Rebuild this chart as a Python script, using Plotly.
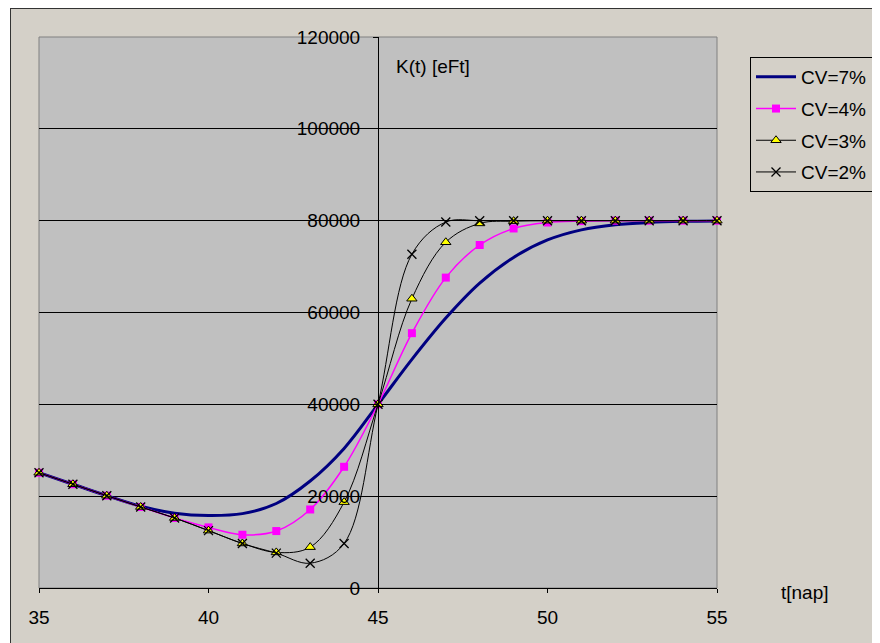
import plotly.graph_objects as go

# ---- data ----
t_days = list(range(35, 56))
cv7 = [25100, 22600, 20100, 17800, 16300, 15800, 16200, 18400, 23300, 30400, 40000,
       49800, 58800, 66400, 72000, 75800, 78000, 79100, 79600, 79850, 79950]
cv4 = [25100, 22600, 20100, 17650, 15250, 13200, 11600, 12400, 17100, 26400, 40000,
       55500, 67600, 74700, 78300, 79600, 79900, 80000, 80000, 80000, 80000]
cv3 = [25100, 22600, 20100, 17650, 15250, 12500, 9700, 7750, 8900, 18700, 40000,
       63000, 75300, 79400, 79900, 80000, 80000, 80000, 80000, 80000, 80000]
cv2 = [25100, 22600, 20100, 17650, 15250, 12500, 9700, 7600, 5400, 9700, 40000,
       72700, 79700, 80000, 80000, 80000, 80000, 80000, 80000, 80000, 80000]
series_names = ["CV=7%", "CV=4%", "CV=3%", "CV=2%"]
x_ticks = [35, 40, 45, 50, 55]
y_ticks = [0, 20000, 40000, 60000, 80000, 100000, 120000]

FONT = "Liberation Sans, Arial, sans-serif"
OFF = 8  # page body margin
W, H = 872, 635
ML, MT, MR, MB = 31, 29, 163, 55
pw = W - ML - MR
ph = H - MT - MB

fig = go.Figure()
fig.add_trace(go.Scatter(
    x=t_days, y=cv7, name=series_names[0], mode="lines", legendgroup="a",
    line=dict(color="#000080", width=3, shape="spline", smoothing=1),
    cliponaxis=False))
fig.add_trace(go.Scatter(
    x=t_days, y=cv4, name=series_names[1], mode="lines+markers", legendgroup="b",
    line=dict(color="#ff00ff", width=1.5, shape="spline", smoothing=1),
    marker=dict(symbol="square", size=8, color="#ff00ff"),
    cliponaxis=False))
fig.add_trace(go.Scatter(
    x=t_days, y=cv3, name=series_names[2], mode="lines+markers", legendgroup="c",
    line=dict(color="#000000", width=1, shape="spline", smoothing=1),
    marker=dict(symbol="triangle-up", size=9, color="#ffff00",
                line=dict(color="#000000", width=1)),
    cliponaxis=False))
fig.add_trace(go.Scatter(
    x=t_days, y=cv2, name=series_names[3], mode="lines+markers", legendgroup="d",
    line=dict(color="#000000", width=1, shape="spline", smoothing=1),
    marker=dict(symbol="x-thin", size=9, color="#000000",
                line=dict(color="#000000", width=1.3)),
    cliponaxis=False))


def px_x(p):
    return (p - OFF - ML) / pw


def px_y(p):
    return (H - MB - (p - OFF)) / ph


shapes = [
    # plot area border
    dict(type="rect", xref="paper", yref="paper", x0=0, x1=1, y0=0, y1=1,
         line=dict(color="#808080", width=1), layer="below"),
    # white strip + outer chart border on the left
    dict(type="rect", xref="paper", yref="paper",
         x0=px_x(OFF - 1), x1=px_x(10), y0=px_y(OFF), y1=px_y(H + 20),
         fillcolor="#ffffff", line=dict(width=0), layer="below"),
    dict(type="line", xref="paper", yref="paper",
         x0=px_x(10.5), x1=px_x(10.5), y0=px_y(OFF), y1=px_y(H + 20),
         line=dict(color="#333333", width=1)),
    dict(type="line", xref="paper", yref="paper",
         x0=px_x(10.5), x1=px_x(W + 20), y0=px_y(OFF + 0.5), y1=px_y(OFF + 0.5),
         line=dict(color="#333333", width=1)),
]

fig.update_layout(
    width=W, height=H,
    margin=dict(l=ML, r=MR, t=MT, b=MB, pad=0, autoexpand=False),
    paper_bgcolor="#d4d0c8",
    plot_bgcolor="#c0c0c0",
    font=dict(family=FONT, size=19, color="#000000"),
    showlegend=True,
    legend=dict(
        x=px_x(750), y=px_y(57), xanchor="left", yanchor="top",
        bgcolor="rgba(0,0,0,0)", bordercolor="#000000", borderwidth=1,
        font=dict(family=FONT, size=19, color="#000000"),
        itemwidth=40, tracegroupgap=4, traceorder="grouped",
    ),
    xaxis=dict(
        range=[35, 55], tickvals=x_ticks, ticktext=[str(v) for v in x_ticks],
        showgrid=False, zeroline=False, showline=True, linecolor="#000000",
        linewidth=1, ticks="outside", ticklen=4, tickcolor="#000000",
        tickfont=dict(family=FONT, size=19), domain=[0, 1],
        ticklabelstandoff=8,
    ),
    yaxis=dict(
        range=[0, 120000], tickvals=y_ticks, tickformat="d",
        showgrid=True, gridcolor="#000000", gridwidth=1, zeroline=False,
        showline=True, linecolor="#000000", linewidth=1,
        ticks="outside", ticklen=5, tickcolor="#000000",
        anchor="free", position=0.5, side="left",
        tickfont=dict(family=FONT, size=19), ticklabelstandoff=9,
    ),
    shapes=shapes,
    annotations=[
        dict(text="K(t) [eFt]", xref="paper", yref="paper",
             x=px_x(394), y=px_y(67), xanchor="left", yanchor="middle",
             showarrow=False, font=dict(family=FONT, size=19)),
        dict(text="t[nap]", xref="paper", yref="paper",
             x=px_x(779), y=px_y(592), xanchor="left", yanchor="middle",
             showarrow=False, font=dict(family=FONT, size=19)),
    ],
)

fig.write_html("out.html")
